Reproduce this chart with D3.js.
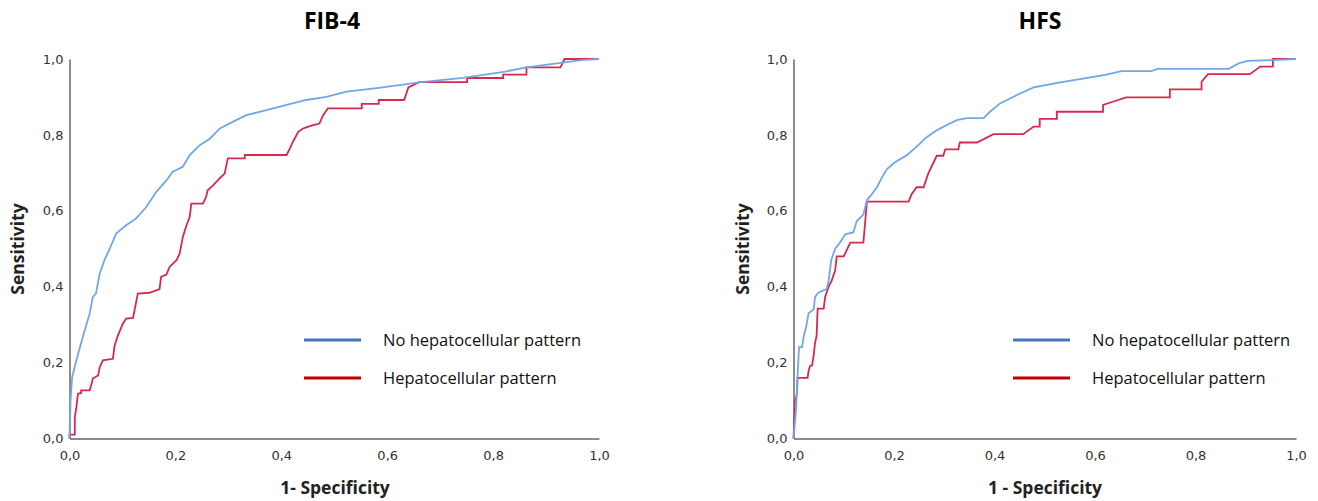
<!DOCTYPE html>
<meta charset="utf-8">
<style>
body { margin: 0; background: #fff; }
.domain { stroke: #8c8c8c; stroke-width: 2px; }
</style>
<body>
<script src="https://d3js.org/d3.v7.min.js"></script>
<script>
// ROC points, [1 - specificity, sensitivity]
var fibNoHep = [[0,0],[0.002,0.1],[0.005,0.162],[0.013,0.206],[0.025,0.267],[0.038,0.329],[0.044,0.373],[0.05,0.382],[0.057,0.434],[0.066,0.47],[0.076,0.5],[0.088,0.54],[0.107,0.562],[0.126,0.58],[0.145,0.61],[0.164,0.65],[0.183,0.68],[0.195,0.703],[0.214,0.716],[0.227,0.747],[0.246,0.773],[0.265,0.79],[0.284,0.817],[0.309,0.835],[0.334,0.852],[0.372,0.865],[0.41,0.879],[0.447,0.892],[0.485,0.9],[0.523,0.914],[0.548,0.918],[0.584,0.924],[0.664,0.939],[0.743,0.95],[0.823,0.967],[0.863,0.978],[0.935,0.991],[0.966,0.997],[1,1]];
var fibHep = [[0,0],[0,0.01],[0.01,0.01],[0.01,0.056],[0.013,0.082],[0.016,0.118],[0.022,0.12],[0.022,0.127],[0.038,0.127],[0.041,0.14],[0.044,0.158],[0.054,0.166],[0.057,0.188],[0.063,0.206],[0.082,0.21],[0.085,0.244],[0.091,0.27],[0.101,0.303],[0.107,0.316],[0.12,0.318],[0.129,0.382],[0.151,0.384],[0.17,0.394],[0.173,0.426],[0.183,0.432],[0.189,0.452],[0.202,0.47],[0.208,0.487],[0.214,0.531],[0.221,0.562],[0.227,0.584],[0.23,0.619],[0.252,0.619],[0.258,0.637],[0.261,0.654],[0.271,0.667],[0.283,0.685],[0.293,0.698],[0.299,0.738],[0.331,0.738],[0.331,0.747],[0.41,0.747],[0.416,0.764],[0.422,0.782],[0.432,0.808],[0.441,0.817],[0.447,0.82],[0.46,0.826],[0.472,0.83],[0.479,0.852],[0.488,0.87],[0.552,0.87],[0.552,0.882],[0.584,0.882],[0.584,0.892],[0.632,0.892],[0.64,0.925],[0.66,0.939],[0.751,0.939],[0.751,0.95],[0.819,0.95],[0.819,0.959],[0.863,0.959],[0.863,0.978],[0.927,0.978],[0.935,1],[1,1]];
var hfsNoHep = [[0,0],[0.005,0.074],[0.008,0.16],[0.011,0.241],[0.017,0.241],[0.02,0.267],[0.025,0.293],[0.03,0.33],[0.04,0.34],[0.043,0.373],[0.05,0.385],[0.066,0.394],[0.07,0.416],[0.075,0.47],[0.083,0.5],[0.093,0.517],[0.103,0.538],[0.119,0.543],[0.126,0.573],[0.139,0.59],[0.146,0.628],[0.156,0.644],[0.166,0.662],[0.176,0.688],[0.186,0.71],[0.202,0.728],[0.225,0.746],[0.245,0.769],[0.265,0.794],[0.285,0.812],[0.305,0.826],[0.325,0.839],[0.345,0.844],[0.378,0.844],[0.391,0.861],[0.411,0.883],[0.431,0.896],[0.451,0.909],[0.478,0.925],[0.528,0.938],[0.57,0.947],[0.62,0.958],[0.653,0.968],[0.712,0.968],[0.724,0.974],[0.866,0.974],[0.887,0.989],[0.904,0.995],[0.954,0.997],[1,1]];
var hfsHep = [[0,0],[0.003,0.1],[0.007,0.118],[0.008,0.16],[0.028,0.16],[0.03,0.178],[0.033,0.191],[0.037,0.193],[0.04,0.218],[0.043,0.253],[0.046,0.27],[0.048,0.342],[0.06,0.342],[0.063,0.373],[0.07,0.4],[0.076,0.416],[0.083,0.443],[0.086,0.48],[0.1,0.48],[0.113,0.516],[0.139,0.516],[0.142,0.56],[0.146,0.624],[0.229,0.624],[0.235,0.644],[0.245,0.662],[0.259,0.662],[0.268,0.698],[0.285,0.745],[0.298,0.745],[0.302,0.762],[0.328,0.762],[0.331,0.78],[0.365,0.78],[0.398,0.802],[0.457,0.802],[0.478,0.822],[0.49,0.822],[0.49,0.842],[0.524,0.842],[0.524,0.861],[0.616,0.861],[0.616,0.879],[0.637,0.888],[0.662,0.899],[0.749,0.899],[0.749,0.92],[0.812,0.92],[0.812,0.94],[0.825,0.96],[0.908,0.96],[0.929,0.98],[0.954,0.98],[0.954,1],[1,1]];

var tickValues = [0, 0.2, 0.4, 0.6, 0.8, 1.0];
var seriesNames = ["No hepatocellular pattern", "Hepatocellular pattern"];

var width = 1318,
    height = 501;

var svg = d3.select("body").append("svg")
    .attr("width", width)
    .attr("height", height);

var fmt = function(d) { return d3.format(".1f")(d).replace(".", ","); };

var panels = [
  {title: "FIB-4", left: 69.5, right: 599, titleX: 332, yTitleX: 18, xTitle: "1- Specificity", xTitleX: 335, legX: 304, data: [fibNoHep, fibHep]},
  {title: "HFS", left: 793.5, right: 1296, titleX: 1040, yTitleX: 743, xTitle: "1 - Specificity", xTitleX: 1045, legX: 1013, data: [hfsNoHep, hfsHep]}
];

var plotTop = 59, plotBottom = 438.5;
var curveColors = ["#72a6e6", "#d52a4d"];
var legendColors = ["#4472c4", "#c00000"];

panels.forEach(function(p) {
  var x = d3.scaleLinear().domain([0, 1]).range([p.left, p.right]);
  var y = d3.scaleLinear().domain([0, 1]).range([plotBottom, plotTop]);
  var g = svg.append("g");

  var xAxis = g.append("g")
      .attr("transform", "translate(0," + plotBottom + ")")
      .call(d3.axisBottom(x).tickValues(tickValues).tickFormat(fmt).tickSize(0).tickPadding(12));

  var yAxis = g.append("g")
      .attr("transform", "translate(" + p.left + ",0)")
      .call(d3.axisLeft(y).tickValues(tickValues).tickFormat(fmt).tickSize(0).tickPadding(6));

  [xAxis, yAxis].forEach(function(a) {
    a.attr("font-family", "DejaVu Sans").attr("font-size", 13);
    a.selectAll(".tick text").attr("fill", "#333");
  });

  var line = d3.line()
      .x(function(d) { return x(d[0]); })
      .y(function(d) { return y(d[1]); });

  // red first, blue on top
  [1, 0].forEach(function(i) {
    g.append("path")
        .datum(p.data[i])
        .attr("d", line)
        .attr("fill", "none")
        .attr("stroke", curveColors[i])
        .attr("stroke-width", 1.8);
  });

  g.append("text")
      .attr("x", p.titleX)
      .attr("y", 29)
      .attr("text-anchor", "middle")
      .style("font-family", "Open Sans")
      .style("font-weight", "bold")
      .style("font-size", "23px")
      .text(p.title);

  g.append("text")
      .attr("transform", "translate(" + p.yTitleX + ",249) rotate(-90)")
      .attr("text-anchor", "middle")
      .attr("dy", "0.35em")
      .style("font-family", "Open Sans")
      .style("font-weight", "bold")
      .style("font-size", "17.5px")
      .style("fill", "#222")
      .text("Sensitivity");

  g.append("text")
      .attr("x", p.xTitleX)
      .attr("y", 494)
      .attr("text-anchor", "middle")
      .style("font-family", "Open Sans")
      .style("font-weight", "bold")
      .style("font-size", "17.5px")
      .style("fill", "#222")
      .text(p.xTitle);

  seriesNames.forEach(function(name, i) {
    var ly = 340 + i * 38;
    g.append("line")
        .attr("x1", p.legX).attr("x2", p.legX + 57)
        .attr("y1", ly).attr("y2", ly)
        .attr("stroke", legendColors[i])
        .attr("stroke-width", 3);
    g.append("text")
        .attr("x", p.legX + 79)
        .attr("y", ly)
        .attr("dy", "0.35em")
        .style("font-family", "Open Sans")
        .style("font-size", "16.5px")
        .style("fill", "#111")
        .text(name);
  });
});
</script>
</body>
